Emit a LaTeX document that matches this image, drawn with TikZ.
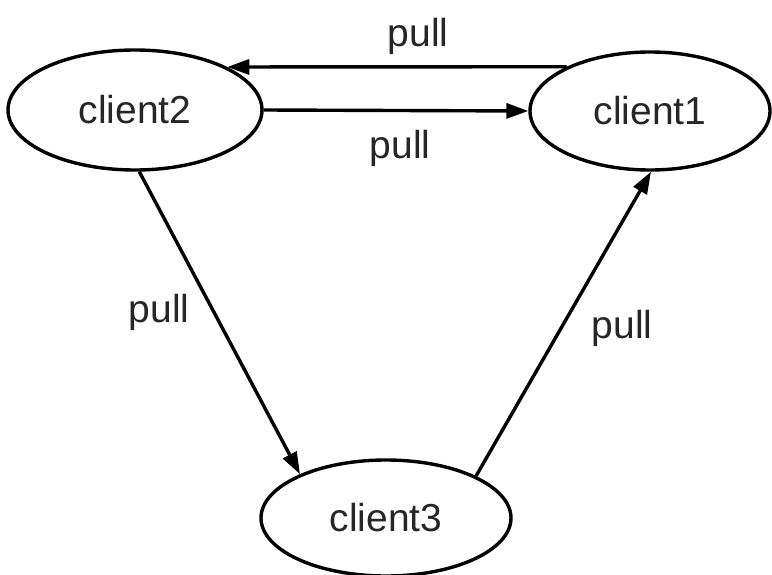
\documentclass[tikz,border=0pt]{standalone}
\usepackage{fontspec}
\setmainfont{Liberation Sans}
\usetikzlibrary{shapes.geometric,arrows.meta}
\begin{document}
\begin{tikzpicture}[x=1pt,y=-1pt,
  client/.style={ellipse,draw,line width=3.4pt,inner sep=0pt,
    font=\fontsize{39}{46}\selectfont,text=black!85},
  pulllabel/.style={font=\fontsize{39}{46}\selectfont,text=black!85,inner sep=0pt},
  link/.style={line width=3.4pt,-{Triangle[length=22pt,width=15pt]}}]
\useasboundingbox[fill=white] (0,0) rectangle (772,575);

% the three clients
\node[client,minimum width=254pt,minimum height=120pt] (c2) at (135,110) {client2};
\node[client,minimum width=240pt,minimum height=118pt] (c1) at (650,111) {client1};
\node[client,minimum width=250pt,minimum height=116pt] (c3) at (386,518) {client3};

% pull connections
\draw[link] (c1.152) -- (c2.25);
\draw[link] (c2.east) -- (c1.west);
\draw[link] (c2.274) -- (c3.153);
\draw[link] (c3.25) -- (c1.271);

% labels
\node[pulllabel] (l1) at (418,36) {pull};
\node[pulllabel] (l2) at (400,148) {pull};
\node[pulllabel] (l3) at (159,312) {pull};
\node[pulllabel] (l4) at (622,328) {pull};
\end{tikzpicture}
\end{document}
